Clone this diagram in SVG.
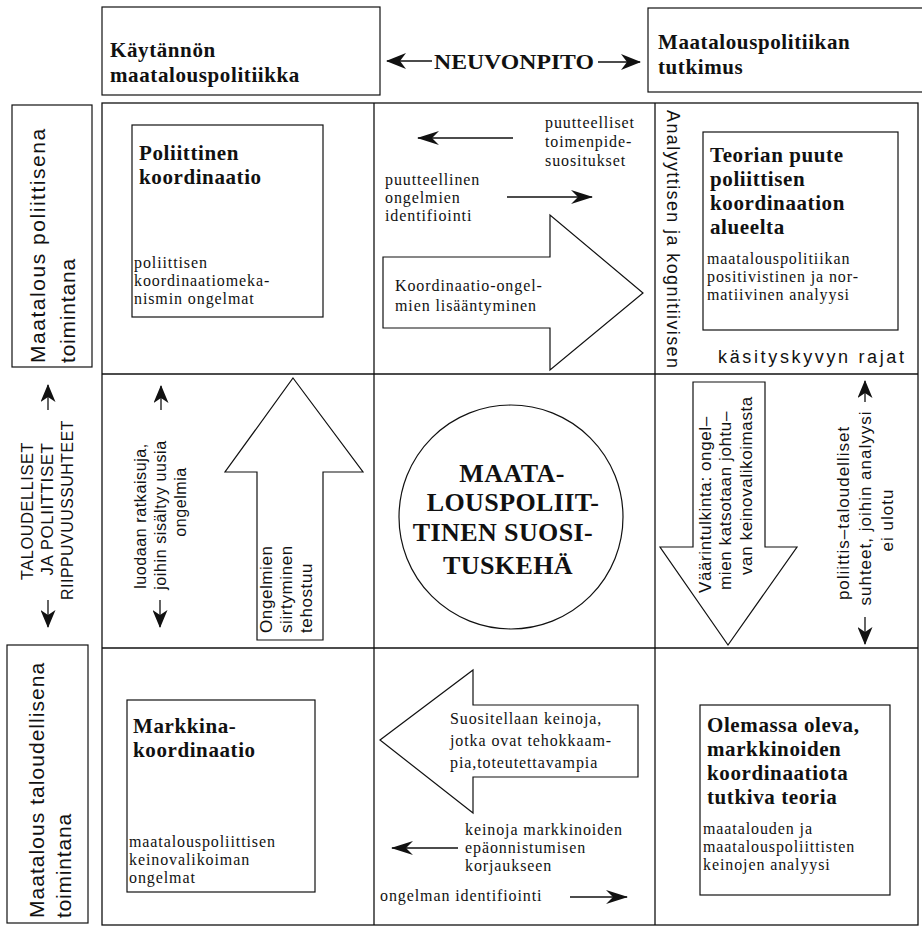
<svg xmlns="http://www.w3.org/2000/svg" width="922" height="930" viewBox="0 0 922 930">
<defs>
<style>
.ln{fill:none;stroke:#111;stroke-width:1.3}
.box{fill:#fff;stroke:#111;stroke-width:1.2}
.blk{fill:#fff;stroke:#111;stroke-width:1.2;stroke-linejoin:miter}
.con{fill:none;stroke:#111;stroke-width:1.3}
.t{font-family:"Liberation Serif","Times New Roman",serif;font-size:16px;fill:#111;letter-spacing:0.9px}
.tb{font-family:"Liberation Serif","Times New Roman",serif;font-size:21px;font-weight:bold;fill:#111;letter-spacing:0.6px}
.big{font-family:"Liberation Serif","Times New Roman",serif;font-size:26px;font-weight:bold;fill:#111;text-anchor:middle;letter-spacing:0.4px}
.s{font-family:"Liberation Sans",Arial,sans-serif;font-size:17px;fill:#111;letter-spacing:0.6px}
.sl{font-family:"Liberation Sans",Arial,sans-serif;font-size:21px;fill:#111;letter-spacing:0.8px}
.m{text-anchor:middle}
</style>
<marker id="ah" markerUnits="userSpaceOnUse" viewBox="0 0 22 14" refX="21" refY="7" markerWidth="22" markerHeight="14" orient="auto"><path d="M0,0 L22,7 L0,14 L7,7 Z" fill="#111"/></marker>
<marker id="ahn" markerUnits="userSpaceOnUse" viewBox="0 0 20 16" refX="19" refY="8" markerWidth="20" markerHeight="16" orient="auto"><path d="M0,0 L20,8 L0,16 L6,8 Z" fill="#111"/></marker>
<marker id="ahv" markerUnits="userSpaceOnUse" viewBox="0 0 18 15" refX="17" refY="7.5" markerWidth="18" markerHeight="15" orient="auto"><path d="M0,0 L18,7.5 L0,15 L5,7.5 Z" fill="#111"/></marker>
</defs>
<rect width="922" height="930" fill="#fff"/>

<g id="grid">
<rect class="ln" x="102" y="103" width="816" height="822"/>
<line class="ln" x1="374" y1="103" x2="374" y2="925"/>
<line class="ln" x1="655" y1="103" x2="655" y2="925"/>
<line class="ln" x1="102" y1="374" x2="918" y2="374"/>
<line class="ln" x1="102" y1="648" x2="918" y2="648"/>
</g>

<g id="kaytannon">
<rect class="box" x="102" y="7" width="278" height="88"/>
<text class="tb" x="110" y="57">Käytännön</text>
<text class="tb" x="110" y="82">maatalouspolitiikka</text>
</g>
<g id="neuvonpito">
<text x="514" y="69" style="font-family:'Liberation Serif','Times New Roman',serif;font-size:20px;font-weight:bold;text-anchor:middle;fill:#111" textLength="160" lengthAdjust="spacingAndGlyphs">NEUVONPITO</text>
</g>
<g id="tutkimus">
<rect class="box" x="648" y="8" width="290" height="84"/>
<text class="tb" x="658" y="49">Maatalouspolitiikan</text>
<text class="tb" x="658" y="74">tutkimus</text>
</g>

<g id="poliittisena">
<rect class="box" x="12" y="105" width="80" height="262"/>
<text class="sl" transform="translate(45,363) rotate(-90)" textLength="235" lengthAdjust="spacing">Maatalous poliittisena</text>
<text class="sl" transform="translate(75,363) rotate(-90)">toimintana</text>
</g>
<g id="riippuvuussuhteet">
<text class="s m" transform="translate(33,511) rotate(-90)" textLength="138" lengthAdjust="spacingAndGlyphs">TALOUDELLISET</text>
<text class="s m" transform="translate(53,509) rotate(-90)" textLength="133" lengthAdjust="spacingAndGlyphs">JA POLIITTISET</text>
<text class="s m" transform="translate(73,510) rotate(-90)" textLength="180" lengthAdjust="spacingAndGlyphs">RIIPPUVUUSSUHTEET</text>
</g>
<g id="taloudellisena">
<rect class="box" x="7" y="645" width="81" height="278"/>
<text class="sl" transform="translate(44,918) rotate(-90)" textLength="256" lengthAdjust="spacing">Maatalous taloudellisena</text>
<text class="sl" transform="translate(71,918) rotate(-90)">toimintana</text>
</g>

<g id="poliittinen-koordinaatio">
<rect class="box" x="132" y="125" width="191" height="192"/>
<text class="tb" x="139" y="160">Poliittinen</text>
<text class="tb" x="139" y="184">koordinaatio</text>
<text class="t" x="134" y="268">poliittisen</text>
<text class="t" x="134" y="286">koordinaatiomeka-</text>
<text class="t" x="134" y="304">nismin ongelmat</text>
</g>
<g id="puutteelliset">
<text class="t" x="545" y="128">puutteelliset</text>
<text class="t" x="545" y="147">toimenpide-</text>
<text class="t" x="545" y="166">suositukset</text>
</g>
<g id="puutteellinen">
<text class="t" x="385" y="185">puutteellinen</text>
<text class="t" x="385" y="203">ongelmien</text>
<text class="t" x="385" y="221">identifiointi</text>
</g>
<g id="lisaantyminen">
<polygon class="blk" points="383,257 550,257 550,215 643,293 550,370 550,328 383,328"/>
<text class="t" x="395" y="291">Koordinaatio-ongel-</text>
<text class="t" x="395" y="311">mien lisääntyminen</text>
</g>
<g id="analyyttisen">
<text class="s" style="font-size:18px;letter-spacing:0" transform="translate(667,110) rotate(90)" textLength="258" lengthAdjust="spacing">Analyyttisen ja kognitiivisen</text>
</g>
<g id="teorian-puute">
<rect class="box" x="703" y="132" width="195" height="198"/>
<text class="tb" x="710" y="162">Teorian puute</text>
<text class="tb" x="710" y="186">poliittisen</text>
<text class="tb" x="710" y="210">koordinaation</text>
<text class="tb" x="710" y="234">alueelta</text>
<text class="t" x="707" y="264">maatalouspolitiikan</text>
<text class="t" x="707" y="282">positivistinen ja nor-</text>
<text class="t" x="707" y="300">matiivinen analyysi</text>
</g>
<g id="kasityskyvyn">
<text class="s" style="font-size:18px;letter-spacing:0" x="718" y="363" textLength="186" lengthAdjust="spacing">käsityskyvyn rajat</text>
</g>

<g id="luodaan">
<text class="s m" style="font-size:16px" transform="translate(146,516) rotate(-90)">luodaan ratkaisuja,</text>
<text class="s m" style="font-size:16px" transform="translate(166,515) rotate(-90)">joihin sisältyy uusia</text>
<text class="s m" style="font-size:16px" transform="translate(186,502) rotate(-90)">ongelmia</text>
</g>
<g id="siirtyminen">
<polygon class="blk" points="293,378 363,472 323,472 323,640 257,640 257,472 225,472"/>
<text class="s" transform="translate(272,633) rotate(-90)">Ongelmien</text>
<text class="s" transform="translate(292,633) rotate(-90)">siirtyminen</text>
<text class="s" transform="translate(312,633) rotate(-90)">tehostuu</text>
</g>
<g id="suosituskeha">
<circle class="box" cx="511" cy="517" r="112"/>
<text class="big" x="512" y="482">MAATA-</text>
<text class="big" x="513" y="511">LOUSPOLIIT-</text>
<text class="big" x="503" y="541">TINEN SUOSI-</text>
<text class="big" x="508" y="574">TUSKEHÄ</text>
</g>
<g id="vaarintulkinta">
<polygon class="blk" points="693,382 765,382 765,547 797,547 728,645 660,547 693,547"/>
<text class="s" transform="translate(711,593) rotate(-90)">Väärintulkinta: ongel–</text>
<text class="s" transform="translate(731,590) rotate(-90)">mien katsotaan johtu–</text>
<text class="s" transform="translate(752,575) rotate(-90)">van keinovalikoimasta</text>
</g>
<g id="poliittis-taloudelliset">
<text class="s m" style="letter-spacing:1px" transform="translate(849,513) rotate(-90)">poliittis–taloudelliset</text>
<text class="s m" style="letter-spacing:1px" transform="translate(871,508) rotate(-90)">suhteet, joihin analyysi</text>
<text class="s m" style="letter-spacing:1px" transform="translate(893,520) rotate(-90)">ei ulotu</text>
</g>

<g id="markkinakoordinaatio">
<rect class="box" x="127" y="700" width="188" height="192"/>
<text class="tb" x="133" y="733">Markkina-</text>
<text class="tb" x="133" y="757">koordinaatio</text>
<text class="t" x="129" y="847">maatalouspoliittisen</text>
<text class="t" x="129" y="865">keinovalikoiman</text>
<text class="t" x="129" y="883">ongelmat</text>
</g>
<g id="suositellaan">
<polygon class="blk" points="380,740 473,670 473,705 638,705 638,777 473,777 473,813"/>
<text class="t" x="450" y="724">Suositellaan keinoja,</text>
<text class="t" x="450" y="746">jotka ovat tehokkaam-</text>
<text class="t" x="450" y="768">pia,toteutettavampia</text>
</g>
<g id="keinoja">
<text class="t" x="465" y="835">keinoja markkinoiden</text>
<text class="t" x="465" y="853">epäonnistumisen</text>
<text class="t" x="465" y="871">korjaukseen</text>
</g>
<g id="ongelman-identifiointi">
<text class="t" x="380" y="901">ongelman identifiointi</text>
</g>
<g id="olemassa-oleva">
<rect class="box" x="700" y="705" width="190" height="190"/>
<text class="tb" x="707" y="732">Olemassa oleva,</text>
<text class="tb" x="707" y="756">markkinoiden</text>
<text class="tb" x="707" y="780">koordinaatiota</text>
<text class="tb" x="707" y="804">tutkiva teoria</text>
<text class="t" x="703" y="834">maatalouden ja</text>
<text class="t" x="703" y="852">maatalouspoliittisten</text>
<text class="t" x="703" y="870">keinojen analyysi</text>
</g>

<g id="connectors">
<line class="con" x1="432" y1="61" x2="387" y2="61" marker-end="url(#ahn)"/>
<line class="con" x1="598" y1="62" x2="640" y2="62" marker-end="url(#ahn)"/>
<line class="con" x1="513" y1="138" x2="418" y2="138" marker-end="url(#ah)"/>
<line class="con" x1="507" y1="197" x2="592" y2="197" marker-end="url(#ah)"/>
<line class="con" x1="458" y1="848" x2="392" y2="848" marker-end="url(#ah)"/>
<line class="con" x1="570" y1="897" x2="627" y2="897" marker-end="url(#ah)"/>
<line class="con" x1="48" y1="410" x2="48" y2="385" marker-end="url(#ahv)"/>
<line class="con" x1="48" y1="600" x2="48" y2="627" marker-end="url(#ahv)"/>
<line class="con" x1="161" y1="410" x2="161" y2="386" marker-end="url(#ahv)"/>
<line class="con" x1="160" y1="600" x2="160" y2="627" marker-end="url(#ahv)"/>
<line class="con" x1="865" y1="402" x2="865" y2="381" marker-end="url(#ahv)"/>
<line class="con" x1="865" y1="617" x2="865" y2="644" marker-end="url(#ahv)"/>
</g>
</svg>
